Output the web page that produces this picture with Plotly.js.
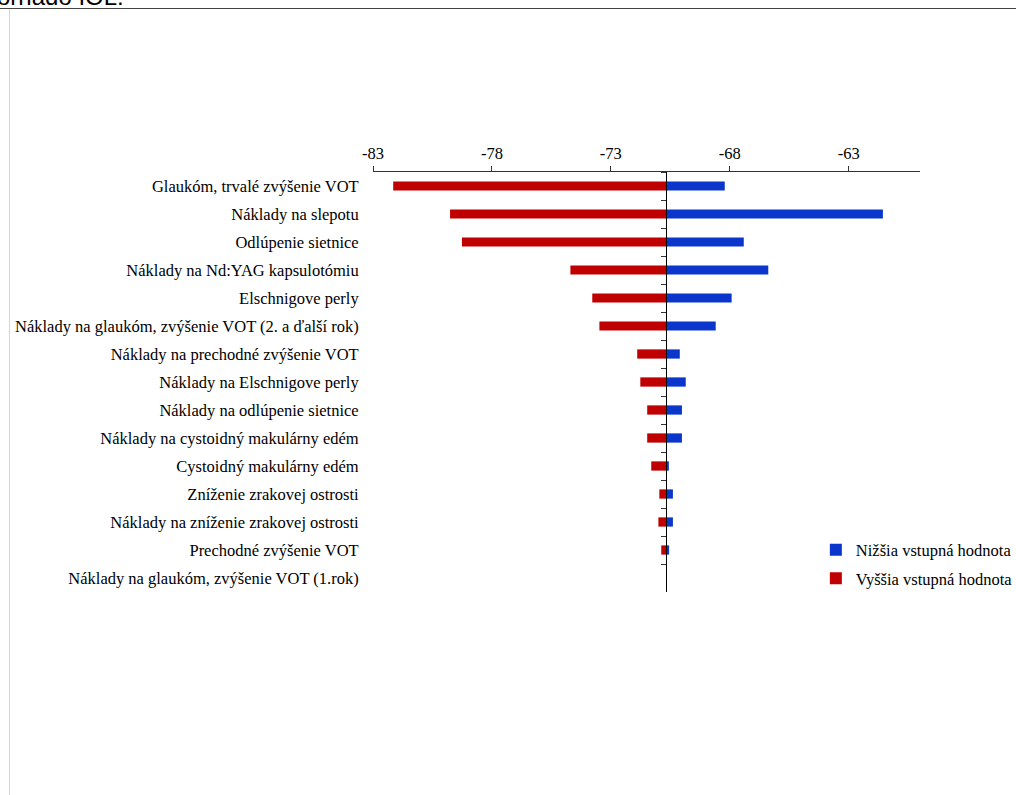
<!DOCTYPE html>
<html>
<head>
<meta charset="utf-8">
<script src="https://cdn.plot.ly/plotly-3.0.1.min.js"></script>
<style>
  body { margin:0; background:#fff; }
  #wrap { position:relative; width:1016px; height:795px; overflow:hidden; background:#fff; }
  #ttl { position:absolute; left:-15px; top:-15px; font-family:'Liberation Sans', Arial, sans-serif; font-size:24px; line-height:24px; color:#000; white-space:nowrap; }
  #topline { position:absolute; left:0; top:8px; width:1016px; height:1px; background:#444; }
  #leftline { position:absolute; left:9px; top:9px; width:1px; height:786px; background:#d4d4d4; }
  #chart { position:absolute; left:0; top:0; width:1016px; height:795px; }
</style>
</head>
<body>
<div id="wrap">
  <div id="ttl">Tornádo IOL:</div>
  <div id="topline"></div>
  <div id="leftline"></div>
  <div id="chart"></div>
</div>
<script>
// ---- data ----
const categories = [
  "Glaukóm, trvalé zvýšenie VOT",
  "Náklady na slepotu",
  "Odlúpenie sietnice",
  "Náklady na Nd:YAG kapsulotómiu",
  "Elschnigove perly",
  "Náklady na glaukóm, zvýšenie VOT (2. a ďalší rok)",
  "Náklady na prechodné zvýšenie VOT",
  "Náklady na Elschnigove perly",
  "Náklady na odlúpenie sietnice",
  "Náklady na cystoidný makulárny edém",
  "Cystoidný makulárny edém",
  "Zníženie zrakovej ostrosti",
  "Náklady na zníženie zrakovej ostrosti",
  "Prechodné zvýšenie VOT",
  "Náklady na glaukóm, zvýšenie VOT (1.rok)"
];
const baseValue = -70.66;
// result for the higher input value (red)
const higherInputResult = [-82.15, -79.76, -79.26, -74.70, -73.78, -73.48, -71.89, -71.76, -71.47, -71.47, -71.30, -70.96, -71.00, -70.88, -70.66];
// result for the lower input value (blue)
const lowerInputResult  = [-68.21, -61.56, -67.41, -66.38, -67.92, -68.59, -70.10, -69.85, -70.01, -70.01, -70.56, -70.39, -70.39, -70.55, -70.66];
const seriesNames = ["Nižšia vstupná hodnota", "Vyššia vstupná hodnota"];
const xTicks = [-83, -78, -73, -68, -63];
const xRange = [-83, -60];

// ---- chart ----
const n = categories.length;
const yRange = [n - 0.5, -0.5];
const FONT = { family: "'Liberation Serif', 'Times New Roman', serif", size: 16.5, color: "#000" };

const blue = {
  type: "bar", orientation: "h", name: seriesNames[0], legendgroup: "a",
  y: categories, base: categories.map(() => baseValue),
  x: lowerInputResult.map(v => v - baseValue),
  yaxis: "y2", width: 0.33,
  marker: { color: "#0A36CC", line: { width: 0 } },
  hoverinfo: "skip"
};
const red = {
  type: "bar", orientation: "h", name: seriesNames[1], legendgroup: "b",
  y: categories, base: categories.map(() => baseValue),
  x: higherInputResult.map(v => v - baseValue),
  yaxis: "y", width: 0.33,
  marker: { color: "#C00000", line: { width: 0 } },
  hoverinfo: "skip"
};

const axisPos = (baseValue - xRange[0]) / (xRange[1] - xRange[0]);

const layout = {
  width: 1016, height: 795,
  margin: { l: 373, r: 96, t: 172, b: 203, pad: 0, autoexpand: false },
  paper_bgcolor: "rgba(0,0,0,0)", plot_bgcolor: "rgba(0,0,0,0)",
  font: FONT,
  barmode: "overlay",
  showlegend: true,
  legend: {
    xref: "container", yref: "container",
    x: 0.803, xanchor: "left", y: 0.2906, yanchor: "middle",
    traceorder: "grouped", tracegroupgap: 4,
    font: FONT, bgcolor: "rgba(0,0,0,0)", borderwidth: 0
  },
  xaxis: {
    side: "top", range: xRange, tickvals: xTicks, ticktext: xTicks.map(String),
    showline: true, linecolor: "#333", linewidth: 1,
    ticks: "outside", ticklen: 5, tickcolor: "#333",
    showgrid: false, zeroline: false, automargin: false,
    tickfont: FONT
  },
  yaxis: {
    type: "category", categoryorder: "array", categoryarray: categories,
    range: yRange, autorange: false,
    showline: false, showgrid: false, zeroline: false,
    ticks: "outside", ticklen: 10, tickcolor: "rgba(0,0,0,0)",
    tickfont: FONT, automargin: false
  },
  yaxis2: {
    type: "category", categoryorder: "array", categoryarray: categories,
    range: yRange, autorange: false,
    overlaying: "y", anchor: "free", position: axisPos, side: "left",
    showline: true, linecolor: "#000", linewidth: 1,
    ticks: "outside", ticklen: 5, tickcolor: "#333", tickson: "boundaries",
    showticklabels: false, showgrid: false, zeroline: false, automargin: false
  }
};

Plotly.newPlot("chart", [blue, red], layout, { staticPlot: true, displayModeBar: false });
</script>
</body>
</html>
